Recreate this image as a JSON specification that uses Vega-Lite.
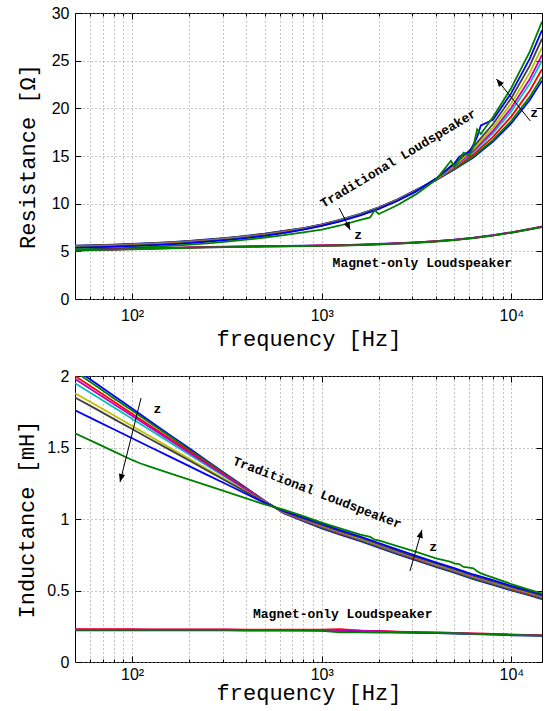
{
"$schema":"https://vega.github.io/schema/vega-lite/v6.json",
"background":"white",
"padding":{"left":15,"top":4,"right":0,"bottom":4},
"spacing":17,
"config":{"view":{"stroke":"black","strokeWidth":1},"font":"Liberation Sans"},
"vconcat":[
{
"width":467,"height":286,
"layer":[
{
"data":{"values":[
{"f":50,"t1":5.60,"t2":5.57,"t3":5.54,"t4":5.51,"t5":5.48,"t6":5.45,"t7":5.42,"t8":5.37,"t9":5.20,"m1":5.13,"m3":5.11,"m5":5.095,"m9":5.08},
{"f":63,"t1":5.65,"t2":5.62,"t3":5.59,"t4":5.56,"t5":5.53,"t6":5.50,"t7":5.47,"t8":5.42,"t9":5.25,"m1":5.17,"m3":5.15,"m5":5.135,"m9":5.12},
{"f":80,"t1":5.71,"t2":5.68,"t3":5.65,"t4":5.62,"t5":5.59,"t6":5.56,"t7":5.53,"t8":5.48,"t9":5.31,"m1":5.22,"m3":5.20,"m5":5.185,"m9":5.17},
{"f":100,"t1":5.78,"t2":5.75,"t3":5.72,"t4":5.69,"t5":5.66,"t6":5.63,"t7":5.60,"t8":5.55,"t9":5.38,"m1":5.27,"m3":5.25,"m5":5.235,"m9":5.22},
{"f":125,"t1":5.86,"t2":5.83,"t3":5.80,"t4":5.77,"t5":5.74,"t6":5.71,"t7":5.68,"t8":5.63,"t9":5.46,"m1":5.32,"m3":5.30,"m5":5.285,"m9":5.27},
{"f":160,"t1":5.97,"t2":5.94,"t3":5.91,"t4":5.88,"t5":5.85,"t6":5.82,"t7":5.79,"t8":5.74,"t9":5.57,"m1":5.37,"m3":5.35,"m5":5.335,"m9":5.32},
{"f":200,"t1":6.10,"t2":6.07,"t3":6.04,"t4":6.01,"t5":5.98,"t6":5.95,"t7":5.92,"t8":5.87,"t9":5.70,"m1":5.42,"m3":5.40,"m5":5.385,"m9":5.37},
{"f":250,"t1":6.24,"t2":6.21,"t3":6.18,"t4":6.15,"t5":6.12,"t6":6.09,"t7":6.06,"t8":6.01,"t9":5.84,"m1":5.46,"m3":5.44,"m5":5.425,"m9":5.41},
{"f":315,"t1":6.41,"t2":6.38,"t3":6.35,"t4":6.32,"t5":6.29,"t6":6.26,"t7":6.23,"t8":6.18,"t9":6.01,"m1":5.49,"m3":5.47,"m5":5.455,"m9":5.44},
{"f":400,"t1":6.62,"t2":6.59,"t3":6.56,"t4":6.53,"t5":6.50,"t6":6.47,"t7":6.44,"t8":6.39,"t9":6.22,"m1":5.52,"m3":5.50,"m5":5.485,"m9":5.47},
{"f":500,"t1":6.85,"t2":6.82,"t3":6.79,"t4":6.76,"t5":6.73,"t6":6.70,"t7":6.67,"t8":6.62,"t9":6.45,"m1":5.55,"m3":5.53,"m5":5.515,"m9":5.50},
{"f":630,"t1":7.14,"t2":7.11,"t3":7.08,"t4":7.05,"t5":7.02,"t6":6.99,"t7":6.96,"t8":6.91,"t9":6.69,"m1":5.57,"m3":5.55,"m5":5.535,"m9":5.52},
{"f":800,"t1":7.44,"t2":7.42,"t3":7.39,"t4":7.37,"t5":7.35,"t6":7.33,"t7":7.31,"t8":7.28,"t9":6.99,"m1":5.60,"m3":5.58,"m5":5.565,"m9":5.55},
{"f":1000,"t1":7.83,"t2":7.81,"t3":7.78,"t4":7.76,"t5":7.74,"t6":7.72,"t7":7.70,"t8":7.67,"t9":7.28,"m1":5.63,"m3":5.61,"m5":5.595,"m9":5.58},
{"f":1250,"t1":8.31,"t2":8.29,"t3":8.26,"t4":8.24,"t5":8.22,"t6":8.20,"t7":8.18,"t8":8.15,"t9":7.71,"m1":5.66,"m3":5.64,"m5":5.625,"m9":5.61},
{"f":1600,"t1":8.94,"t2":8.92,"t3":8.89,"t4":8.87,"t5":8.85,"t6":8.83,"t7":8.81,"t8":8.78,"t9":8.29,"m1":5.71,"m3":5.69,"m5":5.675,"m9":5.66},
{"f":1800,"t9":8.55},
{"f":1900,"t9":9.30},
{"f":2000,"t1":9.62,"t2":9.60,"t3":9.57,"t4":9.55,"t5":9.53,"t6":9.51,"t7":9.49,"t8":9.46,"t9":8.92,"m1":5.77,"m3":5.75,"m5":5.735,"m9":5.72},
{"f":2500,"t1":10.44,"t2":10.42,"t3":10.39,"t4":10.37,"t5":10.35,"t6":10.33,"t7":10.31,"t8":10.28,"t9":9.84,"m1":5.85,"m3":5.83,"m5":5.815,"m9":5.80},
{"f":3150,"t1":11.45,"t2":11.43,"t3":11.40,"t4":11.38,"t5":11.36,"t6":11.34,"t7":11.32,"t8":11.29,"t9":11.00,"m1":5.95,"m3":5.93,"m5":5.915,"m9":5.90},
{"f":4000,"t1":12.47,"t2":12.48,"t3":12.51,"t4":12.54,"t5":12.55,"t6":12.58,"t7":12.60,"t8":12.63,"t9":12.50,"m1":6.08,"m3":6.06,"m5":6.045,"m9":6.03},
{"f":4800,"t8":13.95,"t9":14.5},
{"f":5000,"t1":13.59,"t2":13.64,"t3":13.73,"t4":13.84,"t5":13.91,"t6":14.01,"t7":14.12,"t8":14.22,"t9":13.9,"m1":6.23,"m3":6.21,"m5":6.195,"m9":6.18},
{"f":5300,"t8":14.9,"t9":14.6},
{"f":5600,"t8":15.2,"t9":15.35},
{"f":6000,"t8":15.4,"t9":15.0},
{"f":6300,"t1":14.85,"t2":14.95,"t3":15.15,"t4":15.38,"t5":15.53,"t6":15.73,"t7":15.95,"t8":16.18,"t9":16.0,"m1":6.43,"m3":6.41,"m5":6.395,"m9":6.38},
{"f":6600,"t8":17.0,"t9":17.8},
{"f":6900,"t8":18.2,"t9":17.3},
{"f":8000,"t1":16.51,"t2":16.68,"t3":17.01,"t4":17.39,"t5":17.64,"t6":17.98,"t7":18.36,"t8":18.8,"t9":19.1,"m1":6.70,"m3":6.68,"m5":6.665,"m9":6.65},
{"f":10000,"t1":18.44,"t2":18.68,"t3":19.16,"t4":19.70,"t5":20.06,"t6":20.54,"t7":21.08,"t8":21.62,"t9":22.16,"m1":7.00,"m3":6.98,"m5":6.965,"m9":6.95},
{"f":12500,"t1":20.87,"t2":21.20,"t3":21.85,"t4":22.59,"t5":23.08,"t6":23.74,"t7":24.48,"t8":25.21,"t9":25.95,"m1":7.35,"m3":7.33,"m5":7.315,"m9":7.30},
{"f":14500,"t1":22.9,"t2":23.3,"t3":24.1,"t4":25.0,"t5":25.6,"t6":26.4,"t7":27.3,"t8":28.2,"t9":29.1,"m1":7.60,"m3":7.58,"m5":7.565,"m9":7.55}
]},
"transform":[{"fold":["t1","t2","t3","t4","t5","t6","t7","t8","t9","m1","m3","m5","m9"],"as":["s","v"]},{"filter":"isValid(datum.v)"}],
"mark":{"type":"line","strokeWidth":1.8,"clip":true},
"encoding":{
"x":{"field":"f","type":"quantitative","scale":{"type":"log","domain":[50,14500],"nice":false},
"axis":{"orient":"bottom","values":[60,70,80,90,100,200,300,400,500,600,700,800,900,1000,2000,3000,4000,5000,6000,7000,8000,9000,10000],
"labelExpr":"datum.value==100?'10²':datum.value==1000?'10³':datum.value==10000?'10⁴':''",
"labelOverlap":false,"labelFont":"Liberation Sans","labelFontSize":16,"labelColor":"black","labelPadding":14,
"grid":true,"gridDash":[1,3],"gridColor":"#888888","gridWidth":1,"domain":false,"tickColor":"black",
"tickSize":{"condition":{"test":"datum.value==100||datum.value==1000||datum.value==10000","value":-6},"value":-3},
"title":"frequency [Hz]","titleFont":"Liberation Mono","titleFontSize":22,"titleFontWeight":"normal","titleColor":"black","titlePadding":2}},
"y":{"field":"v","type":"quantitative","scale":{"domain":[0,30],"nice":false},
"axis":{"orient":"left","values":[0,5,10,15,20,25,30],"labelFont":"Liberation Sans","labelFontSize":16,"labelColor":"black","labelPadding":12,
"grid":true,"gridDash":[1,3],"gridColor":"#888888","gridWidth":1,"domain":false,"tickColor":"black","tickSize":-6,
"title":"Resistance [Ω]","titleFont":"Liberation Mono","titleFontSize":22,"titleFontWeight":"normal","titleColor":"black","titlePadding":12}},
"color":{"field":"s","type":"nominal","scale":{"domain":["t1","t2","t3","t4","t5","t6","t7","t8","t9","m1","m3","m5","m9"],"range":["#0000ff","#008000","#ff0000","#00bfbf","#bf00bf","#bfbf00","#404040","#0000ff","#008000","#0000ff","#ff0000","#bf00bf","#008000"]},"legend":null}
}
},
{
"data":{"values":[{"f":50,"v":0}]},
"mark":{"type":"point","opacity":0},
"encoding":{
"x":{"field":"f","type":"quantitative","scale":{"type":"log","domain":[50,14500],"nice":false},
"axis":{"orient":"top","values":[60,70,80,90,100,200,300,400,500,600,700,800,900,1000,2000,3000,4000,5000,6000,7000,8000,9000,10000],"labels":false,"grid":false,"domain":false,"tickColor":"black",
"tickSize":{"condition":{"test":"datum.value==100||datum.value==1000||datum.value==10000","value":-6},"value":-3},"title":null}},
"y":{"field":"v","type":"quantitative","scale":{"domain":[0,30],"nice":false},
"axis":{"orient":"right","values":[0,5,10,15,20,25,30],"labels":false,"grid":false,"domain":false,"tickColor":"black","tickSize":-6,"title":null}}
}
},
{
"data":{"values":[{"f":2533,"v":14.74,"t":"Traditional Loudspeaker"}]},
"mark":{"type":"text","font":"Liberation Mono","fontWeight":"bold","fontSize":13,"angle":-31,"align":"center","baseline":"middle","color":"black"},
"encoding":{"x":{"field":"f","type":"quantitative","axis":null},"y":{"field":"v","type":"quantitative","axis":null},"text":{"field":"t"}}
},
{
"data":{"values":[{"f":3390,"v":3.78,"t":"Magnet-only Loudspeaker"},{"f":1556,"v":6.7,"t":"z"},{"f":13200,"v":19.5,"t":"z"}]},
"mark":{"type":"text","font":"Liberation Mono","fontWeight":"bold","fontSize":13,"align":"center","baseline":"middle","color":"black"},
"encoding":{"x":{"field":"f","type":"quantitative","axis":null},"y":{"field":"v","type":"quantitative","axis":null},"text":{"field":"t"}}
},
{
"data":{"values":[{"f":1236,"v":9.55,"f2":1413,"v2":7.24},{"f":12590,"v":18.67,"f2":8340,"v2":23.08}]},
"mark":{"type":"rule","color":"black","strokeWidth":1},
"encoding":{"x":{"field":"f","type":"quantitative","axis":null},"y":{"field":"v","type":"quantitative","axis":null},"x2":{"field":"f2"},"y2":{"field":"v2"}}
},
{
"data":{"values":[{"f":1413,"v":7.24}]},
"mark":{"type":"point","shape":"M0,0L-0.4,1L0.4,1Z","filled":true,"color":"black","opacity":1,"size":250,"angle":153},
"encoding":{"x":{"field":"f","type":"quantitative","axis":null},"y":{"field":"v","type":"quantitative","axis":null}}
},
{
"data":{"values":[{"f":8340,"v":23.08}]},
"mark":{"type":"point","shape":"M0,0L-0.4,1L0.4,1Z","filled":true,"color":"black","opacity":1,"size":250,"angle":321},
"encoding":{"x":{"field":"f","type":"quantitative","axis":null},"y":{"field":"v","type":"quantitative","axis":null}}
}
],
"resolve":{"axis":{"x":"independent","y":"independent"}}
},
{
"width":467,"height":286,
"layer":[
{
"data":{"values":[
{"f":50,"t1":2.05,"t2":2.03,"t3":2.00,"t4":1.95,"t5":1.98,"t6":1.88,"t7":1.85,"t8":1.76,"t9":1.60,"m1":0.222,"m3":0.229,"m5":0.227,"m9":0.225},
{"f":63,"t1":1.958,"t2":1.940,"t3":1.912,"t4":1.867,"t5":1.894,"t6":1.804,"t7":1.777,"t8":1.695,"t9":1.538,"m1":0.222,"m3":0.229,"m5":0.227,"m9":0.225},
{"f":80,"t1":1.862,"t2":1.845,"t3":1.821,"t4":1.781,"t5":1.805,"t6":1.725,"t7":1.700,"t8":1.628,"t9":1.473,"m1":0.222,"m3":0.229,"m5":0.227,"m9":0.225},
{"f":100,"t1":1.772,"t2":1.758,"t3":1.736,"t4":1.701,"t5":1.722,"t6":1.651,"t7":1.629,"t8":1.565,"t9":1.413,"m1":0.222,"m3":0.229,"m5":0.227,"m9":0.225},
{"f":110,"t9":1.39},
{"f":125,"t1":1.682,"t2":1.670,"t3":1.651,"t4":1.620,"t5":1.639,"t6":1.577,"t7":1.558,"t8":1.502,"t9":1.364,"m1":0.221,"m3":0.228,"m5":0.226,"m9":0.224},
{"f":160,"t1":1.583,"t2":1.573,"t3":1.557,"t4":1.532,"t5":1.547,"t6":1.495,"t7":1.480,"t8":1.433,"t9":1.317,"m1":0.221,"m3":0.228,"m5":0.226,"m9":0.224},
{"f":200,"t1":1.494,"t2":1.485,"t3":1.473,"t4":1.451,"t5":1.464,"t6":1.421,"t7":1.409,"t8":1.370,"t9":1.275,"m1":0.221,"m3":0.228,"m5":0.226,"m9":0.224},
{"f":250,"t1":1.404,"t2":1.398,"t3":1.388,"t4":1.371,"t5":1.381,"t6":1.347,"t7":1.337,"t8":1.307,"t9":1.233,"m1":0.221,"m3":0.228,"m5":0.226,"m9":0.224},
{"f":315,"t1":1.312,"t2":1.307,"t3":1.300,"t4":1.288,"t5":1.295,"t6":1.271,"t7":1.264,"t8":1.243,"t9":1.190,"m1":0.221,"m3":0.228,"m5":0.226,"m9":0.224},
{"f":400,"t1":1.216,"t2":1.213,"t3":1.209,"t4":1.202,"t5":1.206,"t6":1.192,"t7":1.188,"t8":1.175,"t9":1.144,"m1":0.220,"m3":0.227,"m5":0.225,"m9":0.223},
{"f":500,"t1":1.127,"t2":1.126,"t3":1.124,"t4":1.122,"t5":1.123,"t6":1.118,"t7":1.117,"t8":1.113,"t9":1.102,"m1":0.220,"m3":0.227,"m5":0.225,"m9":0.223},
{"f":630,"t1":1.040,"t2":1.042,"t3":1.045,"t4":1.047,"t5":1.048,"t6":1.050,"t7":1.052,"t8":1.056,"t9":1.065,"m1":0.220,"m3":0.227,"m5":0.225,"m9":0.223},
{"f":800,"t1":0.985,"t2":0.989,"t3":0.992,"t4":0.995,"t5":0.998,"t6":1.000,"t7":1.003,"t8":1.009,"t9":1.020,"m1":0.219,"m3":0.226,"m5":0.224,"m9":0.222},
{"f":1000,"t1":0.935,"t2":0.940,"t3":0.945,"t4":0.949,"t5":0.952,"t6":0.955,"t7":0.959,"t8":0.967,"t9":0.975,"m1":0.219,"m3":0.226,"m5":0.224,"m9":0.218},
{"f":1250,"t1":0.890,"t2":0.895,"t3":0.900,"t4":0.904,"t5":0.907,"t6":0.910,"t7":0.914,"t8":0.922,"t9":0.935,"m1":0.217,"m3":0.230,"m5":0.222,"m9":0.208},
{"f":1600,"t1":0.845,"t2":0.850,"t3":0.855,"t4":0.859,"t5":0.862,"t6":0.865,"t7":0.869,"t8":0.877,"t9":0.890,"m1":0.215,"m3":0.220,"m5":0.219,"m9":0.207},
{"f":1800,"t9":0.875},
{"f":1900,"t9":0.855},
{"f":2000,"t1":0.800,"t2":0.805,"t3":0.810,"t4":0.814,"t5":0.817,"t6":0.820,"t7":0.824,"t8":0.832,"t9":0.850,"m1":0.212,"m3":0.217,"m5":0.216,"m9":0.206},
{"f":2500,"t1":0.755,"t2":0.760,"t3":0.765,"t4":0.769,"t5":0.772,"t6":0.775,"t7":0.779,"t8":0.787,"t9":0.810,"m1":0.207,"m3":0.212,"m5":0.211,"m9":0.205},
{"f":3150,"t1":0.710,"t2":0.715,"t3":0.720,"t4":0.724,"t5":0.727,"t6":0.730,"t7":0.734,"t8":0.742,"t9":0.770,"m1":0.204,"m3":0.209,"m5":0.208,"m9":0.206},
{"f":4000,"t1":0.665,"t2":0.670,"t3":0.675,"t4":0.679,"t5":0.682,"t6":0.685,"t7":0.689,"t8":0.697,"t9":0.725,"m1":0.202,"m3":0.207,"m5":0.206,"m9":0.204},
{"f":4800,"t9":0.700},
{"f":5000,"t1":0.625,"t2":0.630,"t3":0.635,"t4":0.639,"t5":0.642,"t6":0.645,"t7":0.649,"t8":0.657,"t9":0.690,"m1":0.199,"m3":0.204,"m5":0.203,"m9":0.201},
{"f":5300,"t9":0.685},
{"f":5600,"t9":0.665},
{"f":6000,"t9":0.660},
{"f":6300,"t1":0.580,"t2":0.585,"t3":0.590,"t4":0.594,"t5":0.597,"t6":0.600,"t7":0.604,"t8":0.612,"t9":0.655,"m1":0.195,"m3":0.200,"m5":0.199,"m9":0.197},
{"f":6600,"t9":0.635},
{"f":6900,"t9":0.620},
{"f":8000,"t1":0.540,"t2":0.545,"t3":0.550,"t4":0.554,"t5":0.557,"t6":0.560,"t7":0.564,"t8":0.572,"t9":0.590,"m1":0.192,"m3":0.197,"m5":0.196,"m9":0.194},
{"f":10000,"t1":0.500,"t2":0.505,"t3":0.510,"t4":0.514,"t5":0.517,"t6":0.520,"t7":0.524,"t8":0.532,"t9":0.545,"m1":0.187,"m3":0.192,"m5":0.191,"m9":0.189},
{"f":12500,"t1":0.465,"t2":0.470,"t3":0.475,"t4":0.479,"t5":0.482,"t6":0.485,"t7":0.489,"t8":0.497,"t9":0.505,"m1":0.184,"m3":0.189,"m5":0.188,"m9":0.186},
{"f":14500,"t1":0.440,"t2":0.445,"t3":0.450,"t4":0.454,"t5":0.457,"t6":0.460,"t7":0.464,"t8":0.472,"t9":0.480,"m1":0.182,"m3":0.187,"m5":0.186,"m9":0.184}
]},
"transform":[{"fold":["t1","t2","t3","t4","t5","t6","t7","t8","t9","m1","m3","m5","m9"],"as":["s","v"]},{"filter":"isValid(datum.v)"}],
"mark":{"type":"line","strokeWidth":1.8,"clip":true},
"encoding":{
"x":{"field":"f","type":"quantitative","scale":{"type":"log","domain":[50,14500],"nice":false},
"axis":{"orient":"bottom","values":[60,70,80,90,100,200,300,400,500,600,700,800,900,1000,2000,3000,4000,5000,6000,7000,8000,9000,10000],
"labelExpr":"datum.value==100?'10²':datum.value==1000?'10³':datum.value==10000?'10⁴':''",
"labelOverlap":false,"labelFont":"Liberation Sans","labelFontSize":16,"labelColor":"black","labelPadding":10,
"grid":true,"gridDash":[1,3],"gridColor":"#888888","gridWidth":1,"domain":false,"tickColor":"black",
"tickSize":{"condition":{"test":"datum.value==100||datum.value==1000||datum.value==10000","value":-6},"value":-3},
"title":"frequency [Hz]","titleFont":"Liberation Mono","titleFontSize":22,"titleFontWeight":"normal","titleColor":"black","titlePadding":-3}},
"y":{"field":"v","type":"quantitative","scale":{"domain":[0,2],"nice":false},
"axis":{"orient":"left","values":[0,0.5,1,1.5,2],"format":"~g","labelFont":"Liberation Sans","labelFontSize":16,"labelColor":"black","labelPadding":12,
"grid":true,"gridDash":[1,3],"gridColor":"#888888","gridWidth":1,"domain":false,"tickColor":"black","tickSize":-6,
"title":"Inductance [mH]","titleFont":"Liberation Mono","titleFontSize":22,"titleFontWeight":"normal","titleColor":"black","titlePadding":8}},
"color":{"field":"s","type":"nominal","scale":{"domain":["t1","t2","t3","t4","t5","t6","t7","t8","t9","m1","m3","m5","m9"],"range":["#0000ff","#008000","#ff0000","#00bfbf","#bf00bf","#bfbf00","#404040","#0000ff","#008000","#0000ff","#ff0000","#bf00bf","#008000"]},"legend":null}
}
},
{
"data":{"values":[{"f":50,"v":0}]},
"mark":{"type":"point","opacity":0},
"encoding":{
"x":{"field":"f","type":"quantitative","scale":{"type":"log","domain":[50,14500],"nice":false},
"axis":{"orient":"top","values":[60,70,80,90,100,200,300,400,500,600,700,800,900,1000,2000,3000,4000,5000,6000,7000,8000,9000,10000],"labels":false,"grid":false,"domain":false,"tickColor":"black",
"tickSize":{"condition":{"test":"datum.value==100||datum.value==1000||datum.value==10000","value":-6},"value":-3},"title":null}},
"y":{"field":"v","type":"quantitative","scale":{"domain":[0,2],"nice":false},
"axis":{"orient":"right","values":[0,0.5,1,1.5,2],"labels":false,"grid":false,"domain":false,"tickColor":"black","tickSize":-6,"title":null}}
}
},
{
"data":{"values":[{"f":946,"v":1.185,"t":"Traditional Loudspeaker"}]},
"mark":{"type":"text","font":"Liberation Mono","fontWeight":"bold","fontSize":13,"angle":21,"align":"center","baseline":"middle","color":"black"},
"encoding":{"x":{"field":"f","type":"quantitative","axis":null},"y":{"field":"v","type":"quantitative","axis":null},"text":{"field":"t"}}
},
{
"data":{"values":[{"f":1290,"v":0.336,"t":"Magnet-only Loudspeaker"},{"f":136,"v":1.77,"t":"z"},{"f":3873,"v":0.804,"t":"z"}]},
"mark":{"type":"text","font":"Liberation Mono","fontWeight":"bold","fontSize":13,"align":"center","baseline":"middle","color":"black"},
"encoding":{"x":{"field":"f","type":"quantitative","axis":null},"y":{"field":"v","type":"quantitative","axis":null},"text":{"field":"t"}}
},
{
"data":{"values":[{"f":111.5,"v":1.846,"f2":86.4,"v2":1.259},{"f":2917,"v":0.636,"f2":3373,"v2":0.923}]},
"mark":{"type":"rule","color":"black","strokeWidth":1},
"encoding":{"x":{"field":"f","type":"quantitative","axis":null},"y":{"field":"v","type":"quantitative","axis":null},"x2":{"field":"f2"},"y2":{"field":"v2"}}
},
{
"data":{"values":[{"f":86.4,"v":1.259}]},
"mark":{"type":"point","shape":"M0,0L-0.4,1L0.4,1Z","filled":true,"color":"black","opacity":1,"size":250,"angle":194},
"encoding":{"x":{"field":"f","type":"quantitative","axis":null},"y":{"field":"v","type":"quantitative","axis":null}}
},
{
"data":{"values":[{"f":3373,"v":0.923}]},
"mark":{"type":"point","shape":"M0,0L-0.4,1L0.4,1Z","filled":true,"color":"black","opacity":1,"size":250,"angle":16},
"encoding":{"x":{"field":"f","type":"quantitative","axis":null},"y":{"field":"v","type":"quantitative","axis":null}}
}
],
"resolve":{"axis":{"x":"independent","y":"independent"}}
}
]
}
